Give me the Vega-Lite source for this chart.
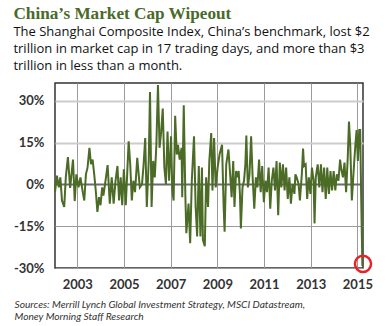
{
  "$schema": "https://vega.github.io/schema/vega-lite/v6.json",
  "width": 390,
  "height": 326,
  "autosize": {"type": "fit", "contains": "padding"},
  "padding": {"left": 13, "right": 13, "top": 6, "bottom": 4},
  "background": "white",
  "title": {
    "text": "China’s Market Cap Wipeout",
    "subtitle": ["The Shanghai Composite Index, China’s benchmark, lost $2", "trillion in market cap in 17 trading days, and more than $3", "trillion in less than a month."],
    "anchor": "start",
    "frame": "bounds",
    "font": "Liberation Serif",
    "fontSize": 17.2,
    "fontWeight": "bold",
    "color": "#4a6a2a",
    "subtitleFont": "Open Sans",
    "subtitleFontSize": 13,
    "subtitleColor": "#111111",
    "subtitleLineHeight": 17,
    "subtitlePadding": 4,
    "offset": 8
  },
  "config": {"view": {"stroke": "#333333", "strokeWidth": 1.5}},
  "layer": [
    {
      "data": {"values": [
        {"year":2002.045,"ret":-2.8},{"year":2002.127,"ret":3.1},{"year":2002.209,"ret":-1.1},{"year":2002.275,"ret":2.5},{"year":2002.344,"ret":-5.8},{"year":2002.439,"ret":-8.1},{"year":2002.508,"ret":2.5},{"year":2002.598,"ret":9.8},{"year":2002.693,"ret":-1.3},{"year":2002.816,"ret":8.9},{"year":2002.889,"ret":-6},{"year":2002.959,"ret":3.6},{"year":2003.053,"ret":-1.1},{"year":2003.135,"ret":2.5},{"year":2003.234,"ret":-2.8},{"year":2003.299,"ret":-5.8},{"year":2003.369,"ret":3.6},{"year":2003.439,"ret":6},{"year":2003.52,"ret":13.1},{"year":2003.586,"ret":7.2},{"year":2003.656,"ret":8.9},{"year":2003.725,"ret":3.6},{"year":2003.791,"ret":-2.2},{"year":2003.861,"ret":-9.9},{"year":2003.93,"ret":-4.6},{"year":2003.996,"ret":-7.5},{"year":2004.066,"ret":-1.1},{"year":2004.119,"ret":-4},{"year":2004.189,"ret":0.1},{"year":2004.299,"ret":6.9},{"year":2004.393,"ret":-6.9},{"year":2004.475,"ret":2.5},{"year":2004.557,"ret":-6.9},
        {"year":2004.639,"ret":1.3},{"year":2004.721,"ret":6.6},{"year":2004.79,"ret":-5.8},{"year":2004.858,"ret":2.5},{"year":2004.926,"ret":-7.5},{"year":2004.995,"ret":5.4},{"year":2005.077,"ret":-7.5},{"year":2005.131,"ret":2.5},{"year":2005.2,"ret":15.4},{"year":2005.268,"ret":7.2},{"year":2005.336,"ret":-5.8},{"year":2005.404,"ret":1.3},{"year":2005.473,"ret":-2.8},{"year":2005.569,"ret":9.5},{"year":2005.678,"ret":-1.1},{"year":2005.773,"ret":0.1},{"year":2005.841,"ret":7.2},{"year":2005.91,"ret":16.6},{"year":2005.978,"ret":-8.1},{"year":2006.06,"ret":8.4},{"year":2006.115,"ret":33.1},{"year":2006.183,"ret":-8.1},{"year":2006.251,"ret":8.4},{"year":2006.32,"ret":2.5},{"year":2006.388,"ret":14.2},{"year":2006.456,"ret":35.6},{"year":2006.525,"ret":13.1},{"year":2006.593,"ret":18.9},{"year":2006.661,"ret":27.2},{"year":2006.73,"ret":6},{"year":2006.798,"ret":0.1},{"year":2006.866,"ret":18.9},{"year":2006.934,"ret":1.3},{"year":2007.016,"ret":17.2},{"year":2007.071,"ret":-2.2},{"year":2007.126,"ret":-5.8},
        {"year":2007.193,"ret":24.6},{"year":2007.262,"ret":10.7},{"year":2007.316,"ret":14.2},{"year":2007.385,"ret":8.9},{"year":2007.467,"ret":13.1},{"year":2007.496,"ret":-4.6},{"year":2007.561,"ret":28.4},{"year":2007.631,"ret":-4.6},{"year":2007.672,"ret":-17.5},{"year":2007.766,"ret":-6.9},{"year":2007.836,"ret":-21.1},{"year":2007.906,"ret":1.3},{"year":2008.0,"ret":17.2},{"year":2008.07,"ret":-8.1},{"year":2008.135,"ret":-18.7},{"year":2008.205,"ret":6.6},{"year":2008.275,"ret":-18.7},{"year":2008.34,"ret":6},{"year":2008.381,"ret":-19.9},{"year":2008.463,"ret":-22.2},{"year":2008.52,"ret":2.5},{"year":2008.602,"ret":-8.1},{"year":2008.656,"ret":8.4},{"year":2008.738,"ret":18.4},{"year":2008.791,"ret":-2.2},{"year":2008.861,"ret":16.6},{"year":2008.93,"ret":-1.1},{"year":2009.012,"ret":6},{"year":2009.094,"ret":10.7},{"year":2009.201,"ret":14.2},{"year":2009.27,"ret":-8.1},{"year":2009.311,"ret":-17},{"year":2009.381,"ret":7.2},{"year":2009.475,"ret":12.5},{"year":2009.557,"ret":2.5},{"year":2009.611,"ret":-4.6},{"year":2009.68,"ret":8.4},
        {"year":2009.734,"ret":-8.1},{"year":2009.803,"ret":4.8},{"year":2009.857,"ret":2.5},{"year":2009.914,"ret":4.8},{"year":2009.967,"ret":-3.4},{"year":2010.008,"ret":-15.8},{"year":2010.078,"ret":-1.1},{"year":2010.143,"ret":1.3},{"year":2010.201,"ret":7.2},{"year":2010.242,"ret":17.5},{"year":2010.307,"ret":-1.1},{"year":2010.377,"ret":3.6},{"year":2010.447,"ret":17.2},{"year":2010.512,"ret":2.5},{"year":2010.582,"ret":-8.7},{"year":2010.652,"ret":2.5},{"year":2010.717,"ret":-1.1},{"year":2010.787,"ret":8.9},{"year":2010.857,"ret":-2.8},{"year":2010.922,"ret":6.6},{"year":2010.992,"ret":-6.4},{"year":2011.061,"ret":1.3},{"year":2011.127,"ret":-2.8},{"year":2011.197,"ret":6},{"year":2011.266,"ret":-8.7},{"year":2011.332,"ret":1.3},{"year":2011.402,"ret":6},{"year":2011.471,"ret":-2.2},{"year":2011.537,"ret":8.4},{"year":2011.607,"ret":-11.1},{"year":2011.676,"ret":7.8},{"year":2011.742,"ret":-1.1},{"year":2011.811,"ret":7.2},{"year":2011.881,"ret":-2.2},{"year":2011.947,"ret":6},{"year":2012.016,"ret":-5.2},{"year":2012.086,"ret":2.5},{"year":2012.152,"ret":-6.9},{"year":2012.221,"ret":0.1},
        {"year":2012.303,"ret":-3.4},{"year":2012.344,"ret":3.6},{"year":2012.398,"ret":2.5},{"year":2012.48,"ret":0.1},{"year":2012.537,"ret":-5.8},{"year":2012.619,"ret":3.6},{"year":2012.672,"ret":12.8},{"year":2012.713,"ret":6.6},{"year":2012.783,"ret":7.2},{"year":2012.848,"ret":-5.2},{"year":2012.918,"ret":2.5},{"year":2012.988,"ret":-3.4},{"year":2013.053,"ret":6},{"year":2013.123,"ret":1.3},{"year":2013.164,"ret":-14},{"year":2013.217,"ret":2.5},{"year":2013.299,"ret":7.2},{"year":2013.369,"ret":-1.1},{"year":2013.439,"ret":7.2},{"year":2013.504,"ret":-2.8},{"year":2013.574,"ret":6},{"year":2013.643,"ret":-5.2},{"year":2013.709,"ret":6},{"year":2013.779,"ret":-3.4},{"year":2013.848,"ret":4.8},{"year":2013.914,"ret":-2.2},{"year":2013.984,"ret":4.8},{"year":2014.053,"ret":-2.2},{"year":2014.119,"ret":3.6},{"year":2014.189,"ret":1.3},{"year":2014.258,"ret":8.9},{"year":2014.311,"ret":5.4},{"year":2014.381,"ret":2.5},{"year":2014.447,"ret":7.8},{"year":2014.516,"ret":-2.8},{"year":2014.586,"ret":9.5},{"year":2014.639,"ret":22.5},{"year":2014.693,"ret":14.2},{"year":2014.762,"ret":-5.8},
        {"year":2014.857,"ret":7.2},{"year":2014.914,"ret":14.2},{"year":2014.967,"ret":19.5},{"year":2015.02,"ret":8.4},{"year":2015.078,"ret":19.5},{"year":2015.119,"ret":19.5},{"year":2015.16,"ret":-3.4},{"year":2015.213,"ret":-29.3}
      ]},
      "mark": {"type": "line", "color": "#4b6b26", "strokeWidth": 2},
      "encoding": {
        "x": {
          "field": "year", "type": "quantitative",
          "scale": {"domain": [2002.045, 2015.24], "nice": false, "zero": false},
          "axis": {
            "values": [2003, 2005, 2007, 2009, 2011, 2013, 2015],
            "format": "d",
            "grid": true, "gridColor": "#9a9a9a", "gridWidth": 1,
            "domain": false, "ticks": false,
            "labelFont": "Lato", "labelFontWeight": "bold", "labelFontSize": 13, "labelColor": "#333333",
            "labelPadding": 10, "labelDx": -5,
            "title": ["Sources: Merrill Lynch Global Investment Strategy, MSCI Datastream,", "Money Morning Staff Research"],
            "titleFont": "Lato", "titleFontStyle": "italic", "titleFontWeight": "normal", "titleFontSize": 10.2,
            "titleColor": "#333333", "titleAnchor": "start", "titleAlign": "left", "titleX": -41,
            "titlePadding": 8, "titleLineHeight": 12
          }
        },
        "y": {
          "field": "ret", "type": "quantitative",
          "scale": {"domain": [-30, 36.35], "nice": false, "zero": false},
          "axis": {
            "values": [-30, -15, 0, 15, 30],
            "labelExpr": "datum.value + '%'",
            "grid": true,
            "gridColor": {"condition": [{"test": "datum.value === 0", "value": "#6e6a72"}, {"test": "datum.value < 0", "value": "#9a9a9a"}], "value": "#cccccc"},
            "gridWidth": {"condition": [{"test": "datum.value === 0", "value": 2}, {"test": "datum.value < 0", "value": 1}], "value": 1.8},
            "domain": false, "ticks": false,
            "labelFont": "Lato", "labelFontWeight": "bold", "labelFontSize": 13, "labelColor": "#333333",
            "labelPadding": 11,
            "title": null
          }
        }
      }
    },
    {
      "data": {"values": [{"year": 2015.24, "ret": -28.5}]},
      "mark": {"type": "point", "shape": "circle", "filled": false, "size": 260, "strokeWidth": 2.5, "color": "#e4232b", "opacity": 1},
      "encoding": {
        "x": {"field": "year", "type": "quantitative"},
        "y": {"field": "ret", "type": "quantitative"}
      }
    }
  ]
}
